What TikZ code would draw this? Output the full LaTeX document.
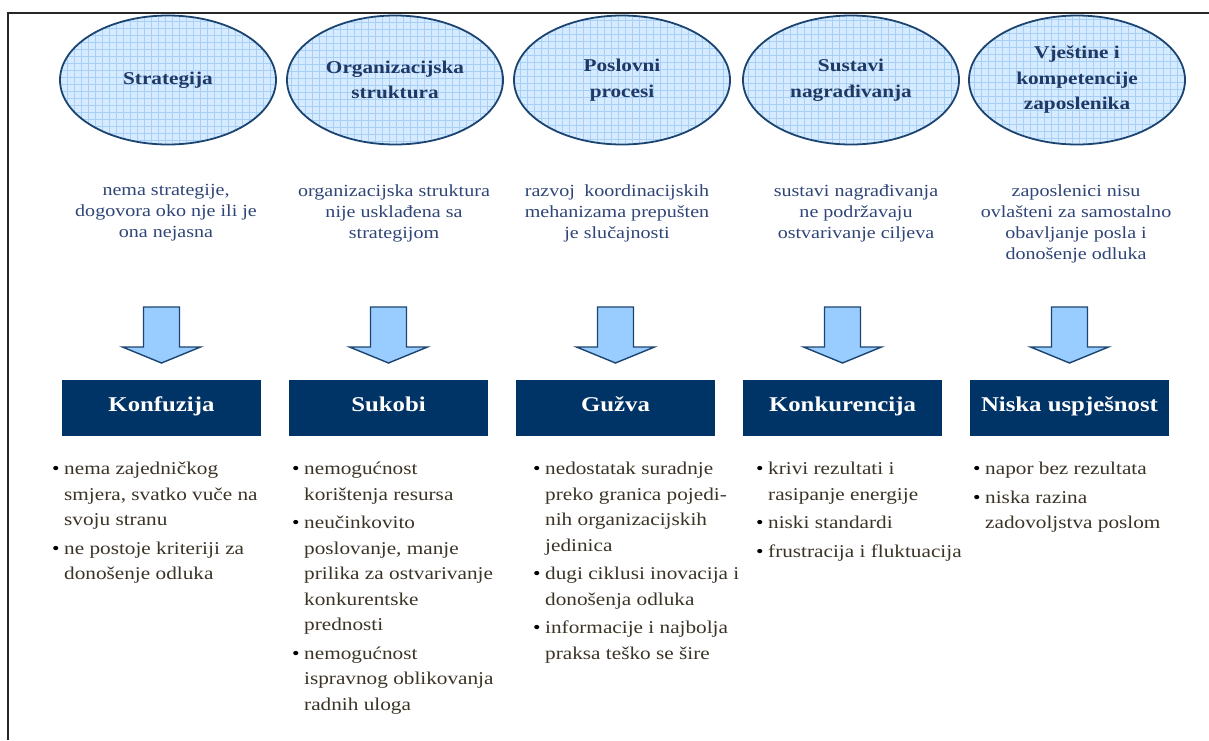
\documentclass[tikz,border=0pt]{standalone}
\usepackage{fontspec}
\setmainfont[FakeStretch=1.18]{Liberation Serif}
\usetikzlibrary{shapes.geometric}
\definecolor{navy}{HTML}{003366}
\definecolor{ellborder}{HTML}{1B4470}
\definecolor{elltext}{HTML}{1F3864}
\definecolor{ellfill}{HTML}{D6EBFF}
\definecolor{ellgrid}{HTML}{A6D0F8}
\definecolor{arrfill}{HTML}{99CCFF}
\definecolor{desctext}{HTML}{2F4577}
\definecolor{listtext}{HTML}{3A3326}
\begin{document}
\begin{tikzpicture}[x=1pt,y=-1pt,
  area/.style={ellipse, draw=ellborder, line width=1.8pt, fill=ellfill,
    minimum width=216pt, minimum height=129pt, inner sep=0pt, align=center,
    font=\fontsize{18}{25.5}\selectfont\bfseries, text=elltext,
    path picture={\draw[ellgrid, line width=0.6pt, step=7pt]
      (path picture bounding box.south west) grid (path picture bounding box.north east);}},
  desc/.style={anchor=north, inner sep=0pt, align=center, text=desctext,
    font=\fontsize{17}{21}\selectfont},
  effect/.style={rectangle, fill=navy, minimum width=199pt, minimum height=56pt,
    inner sep=0pt, text=white, text depth=8pt, font=\fontsize{21}{25}\selectfont\bfseries},
  bullets/.style={anchor=north west, inner sep=0pt, align=left, text=listtext,
    font=\fontsize{18}{25.5}\selectfont},
  arrstyle/.style={draw=ellborder, line width=1.4pt, fill=arrfill, line join=miter},
  blockarrow/.pic={\draw[arrstyle] (-18,0) -- (18,0) -- (18,40) -- (39,40) -- (0,56)
      -- (-39,40) -- (-18,40) -- cycle;},
  frame/.style={line width=2pt, draw=black!85}
]
\newcommand{\bul}{\makebox[12pt][l]{\color{black}\textbullet}}
\newcommand{\ind}{\hspace*{12pt}}
\useasboundingbox (0,0) rectangle (1209,740);
\coordinate (fb) at (8,740);
\coordinate (fc) at (8,13);
\coordinate (fe) at (1209,13);
\draw[frame] (fb) -- (fc) -- (fe);

% ellipses
\node[area] (e1) at (168,80) {Strategija};
\node[area] (e2) at (395,80) {Organizacijska\\struktura};
\node[area] (e3) at (622,80) {Poslovni\\procesi};
\node[area] (e4) at (851,80) {Sustavi\\nagrađivanja};
\node[area] (e5) at (1077,80) {Vještine i\\kompetencije\\zaposlenika};

% descriptions
\node[desc] (d1) at (166,184) {nema strategije,\\dogovora oko nje ili je\\ona nejasna};
\node[desc] (d2) at (394,184) {organizacijska struktura\\nije usklađena sa\\strategijom};
\node[desc] (d3) at (617,184) {\setbox0\hbox{mehanizama prepušten}\hbox to \wd0{razvoj\hfill koordinacijskih}\\mehanizama prepušten\\je slučajnosti};
\node[desc] (d4) at (856,184) {sustavi nagrađivanja\\ne podržavaju\\ostvarivanje ciljeva};
\node[desc] (d5) at (1076,184) {zaposlenici nisu\\ovlašteni za samostalno\\obavljanje posla i\\donošenje odluka};

% arrows
\pic (a1) at (161.5,307) {blockarrow};
\pic (a2) at (388.5,307) {blockarrow};
\pic (a3) at (615.5,307) {blockarrow};
\pic (a4) at (842.5,307) {blockarrow};
\pic (a5) at (1069.5,307) {blockarrow};

% effect boxes
\node[effect] (b1) at (161.5,408) {Konfuzija};
\node[effect] (b2) at (388.5,408) {Sukobi};
\node[effect] (b3) at (615.5,408) {Gužva};
\node[effect] (b4) at (842.5,408) {Konkurencija};
\node[effect] (b5) at (1069.5,408) {Niska uspješnost};

% bullet lists
\node[bullets] (l1) at (52,462) {\bul nema zajedničkog\\\ind smjera, svatko vuče na\\\ind svoju stranu\\[3pt]\bul ne postoje kriteriji za\\\ind donošenje odluka};
\node[bullets] (l2) at (292,462) {\bul nemogućnost\\\ind korištenja resursa\\[3pt]\bul neučinkovito\\\ind poslovanje, manje\\\ind prilika za ostvarivanje\\\ind konkurentske\\\ind prednosti\\[3pt]\bul nemogućnost\\\ind ispravnog oblikovanja\\\ind radnih uloga};
\node[bullets] (l3) at (533,462) {\bul nedostatak suradnje\\\ind preko granica pojedi-\\\ind nih organizacijskih\\\ind jedinica\\[3pt]\bul dugi ciklusi inovacija i\\\ind donošenja odluka\\[3pt]\bul informacije i najbolja\\\ind praksa teško se šire};
\node[bullets] (l4) at (756,462) {\bul krivi rezultati i\\\ind rasipanje energije\\[3pt]\bul niski standardi\\[3pt]\bul frustracija i fluktuacija};
\node[bullets] (l5) at (973,462) {\bul napor bez rezultata\\[3pt]\bul niska razina\\\ind zadovoljstva poslom};
\end{tikzpicture}
\end{document}
